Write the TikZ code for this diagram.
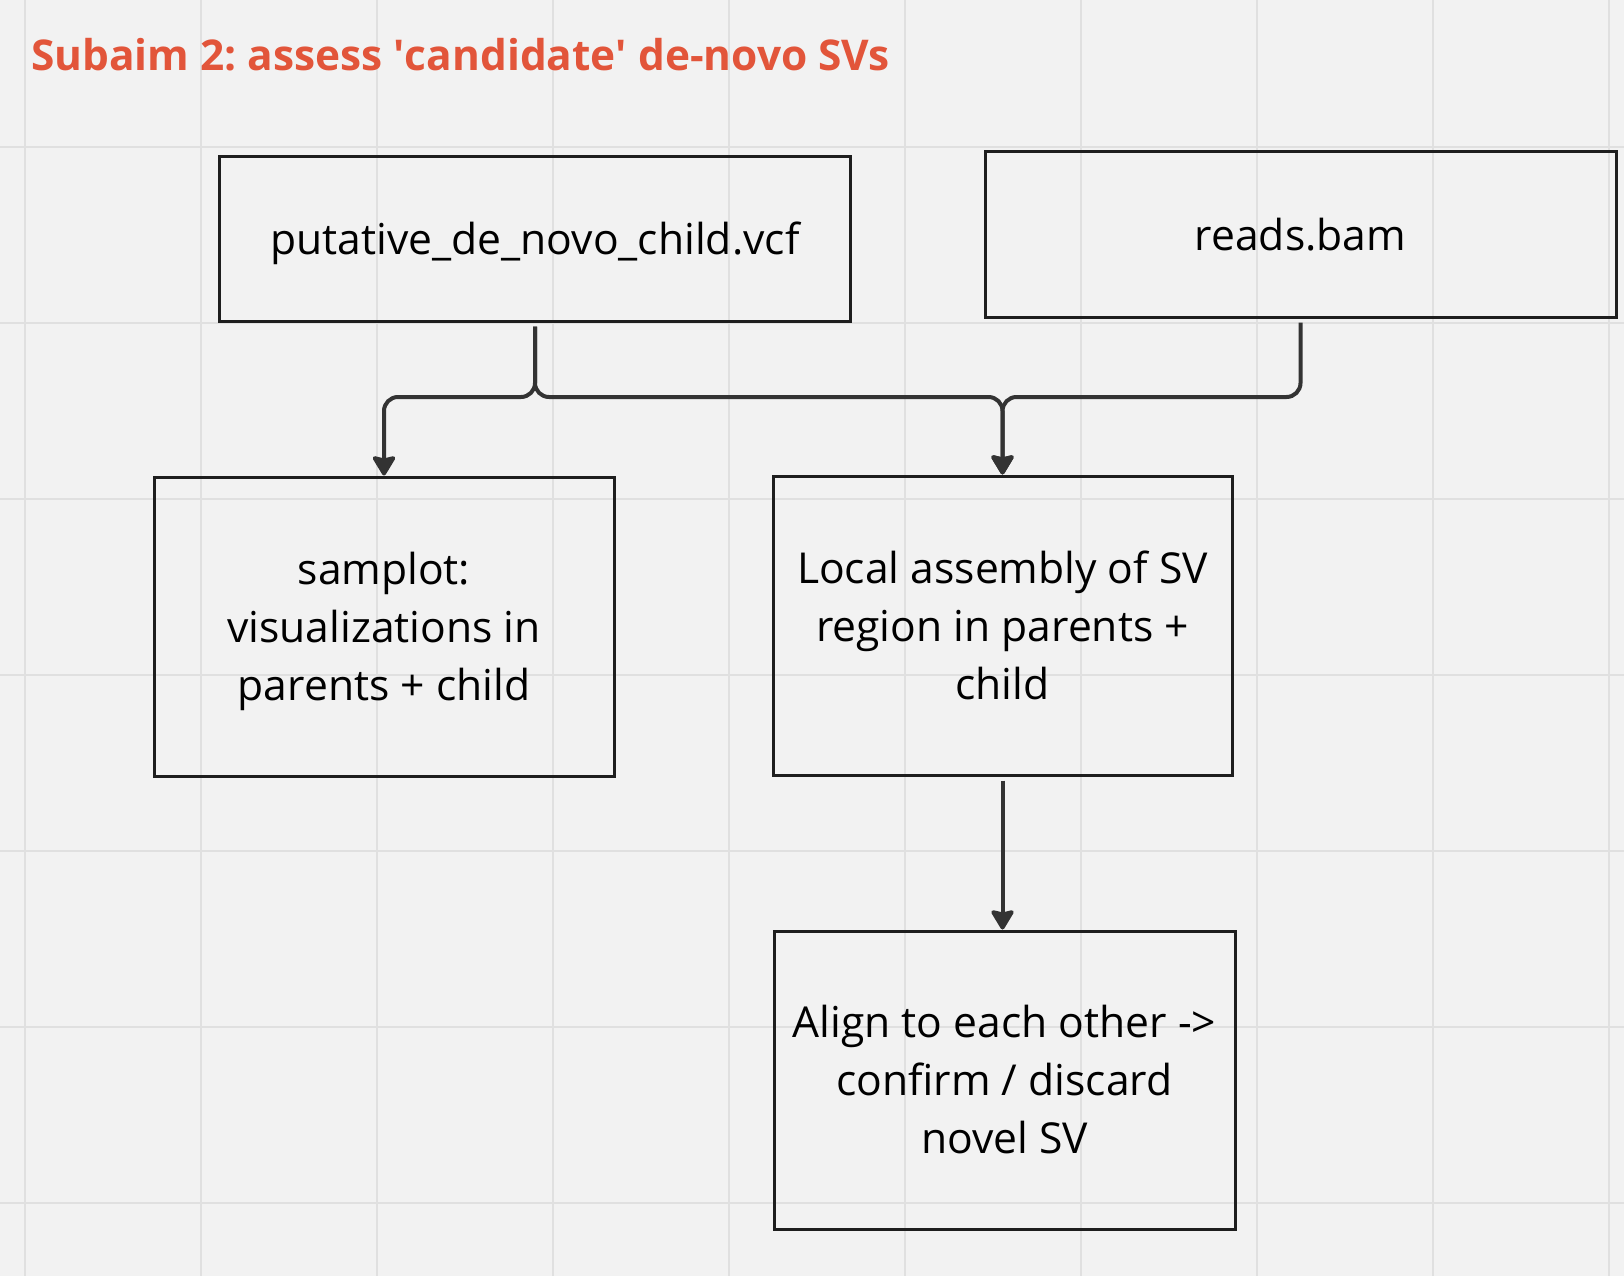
\documentclass[tikz,border=0pt]{standalone}
\usepackage{fontspec}
\setmainfont{Open Sans}
\usetikzlibrary{arrows.meta}
\definecolor{bg}{HTML}{F2F2F2}
\definecolor{gridc}{HTML}{E0E0E0}
\definecolor{boxc}{HTML}{1E1E1E}
\definecolor{linec}{HTML}{333333}
\definecolor{titlec}{HTML}{E2553A}
\newcommand{\nodesc}[1]{\raisebox{0pt}[\height][0pt]{#1}}
\frenchspacing
\begin{document}
\begin{tikzpicture}[x=1pt,y=-1pt,
  box/.style={draw=boxc, line width=3pt, align=center, inner sep=0pt,
    font=\fontsize{42.6}{58}\selectfont},
  conn/.style={draw=linec, line width=4pt, rounded corners=14pt,
    -{Stealth[length=22pt,width=26pt,inset=3pt,round,fill=linec]}},
  gridline/.style={draw=gridc, line width=2pt}]
\fill[bg] (0,0) rectangle (1624,1276);
\useasboundingbox (0,0) rectangle (1624,1276);
\foreach \x in {25,201,...,1609} \draw[gridline] (\x,0) -- (\x,1276);
\foreach \y in {147,323,...,1203} \draw[gridline] (0,\y) -- (1624,\y);

\node[anchor=base west, inner sep=0pt, text=titlec,
  font=\bfseries\fontsize{42.4}{50}\selectfont] (title) at (31,71)
  {Subaim 2: assess \textquotesingle candidate\textquotesingle\ de-novo SVs};

\node[box, minimum width=631pt, minimum height=165pt] (vcf) at (535,238.7) {\nodesc{putative\_de\_novo\_child.vcf}};
\node[box, minimum width=631pt, minimum height=165pt] (bam) at (1300.5,234.5) {reads.bam};
\node[box, minimum width=460pt, minimum height=299pt] (samp) at (384,626.5) {samplot:\\visualizations in\\\nodesc{parents + child}};
\node[box, minimum width=459pt, minimum height=299pt] (asm) at (1002.5,625.5) {Local assembly of SV\\region in parents +\\child};
\node[box, minimum width=461pt, minimum height=298pt] (align) at (1004.5,1080) {Align to each other ->\\confirm / discard\\novel SV};

\coordinate (bus) at (0,397);
\draw[conn, shorten <=4pt] (vcf.south) -- (vcf.south |- bus) -| (samp.north);
\draw[conn, shorten <=4pt] (vcf.south) -- (vcf.south |- bus) -| (asm.north);
\draw[conn, shorten <=4pt] (bam.south) -- (bam.south |- bus) -| (asm.north);
\draw[conn, shorten <=4pt] (asm.south) -- (asm.south |- align.north);
\end{tikzpicture}
\end{document}
